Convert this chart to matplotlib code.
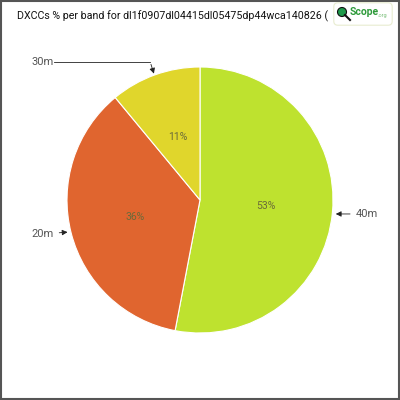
import matplotlib.pyplot as plt
from matplotlib.patches import FancyBboxPatch, Rectangle, Circle
from matplotlib.lines import Line2D

# data
bands = ["40m", "20m", "30m"]
shares = [53, 36, 11]
colors = ["#bee22f", "#e0652f", "#e0d62c"]
title = "DXCCs % per band for dl1f0907dl04415dl05475dp44wca140826 ("

font = ["Roboto", "DejaVu Sans"]

fig = plt.figure(figsize=(4, 4), dpi=100)
fig.patch.set_facecolor("white")

# outer frame
fig.add_artist(Rectangle((0.002, 0.002), 0.996, 0.996, transform=fig.transFigure,
                         fill=False, edgecolor="#555555", linewidth=1.5))

ax = fig.add_axes([67 / 400, 67 / 400, 266 / 400, 266 / 400])
wedges, texts, autotexts = ax.pie(
    shares, colors=colors, startangle=90, counterclock=False,
    autopct=lambda p: "%d%%" % round(p), pctdistance=0.5, radius=1,
    wedgeprops=dict(edgecolor="white", linewidth=0.8),
    textprops=dict(fontsize=7.5, color="#6a6a3a", family=font))
ax.set_xlim(-1, 1)
ax.set_ylim(-1, 1)
ax.set_aspect("equal")
ax.axis("off")

lab = dict(fontsize=8, color="#555555", va="center", family=font)
arr = dict(arrowstyle="-|>", color="#222222", lw=0.6, mutation_scale=8)

ax.annotate(bands[0], xy=(1.0, -0.105), xytext=(1.17, -0.105), ha="left",
            arrowprops=arr, annotation_clip=False, **lab)
ax.annotate(bands[1], xy=(-0.975, -0.24), xytext=(-1.1, -0.256), ha="right",
            arrowprops=arr, annotation_clip=False, **lab)
ax.plot([-1.1, -0.375], [1.04, 1.04], color="#222222", lw=0.6, clip_on=False)
ax.text(-1.1, 1.04, bands[2], ha="right", **lab)
ax.annotate("", xy=(-0.34, 0.93), xytext=(-0.375, 1.04),
            arrowprops=arr, annotation_clip=False)

fig.text(17 / 400, 1 - 16 / 400, title, fontsize=7.7, va="center", ha="left",
         family=font, color="#111111")

# logo box
fig.add_artist(FancyBboxPatch((335 / 400, 1 - 24 / 400), 56 / 400, 20 / 400,
                              boxstyle="round,pad=0.003,rounding_size=0.01",
                              transform=fig.transFigure, facecolor="white",
                              edgecolor="#e8ecd0", linewidth=0.8, zorder=5))
fig.add_artist(Circle((342 / 400, 1 - 12 / 400), 4.5 / 400, transform=fig.transFigure,
                      facecolor="#1e9a4a", edgecolor="#111111", linewidth=0.8, zorder=6))
fig.add_artist(Line2D([345 / 400, 350 / 400], [1 - 15 / 400, 1 - 20 / 400],
                      transform=fig.transFigure, color="#111111", lw=1.5, zorder=6))
fig.text(350 / 400, 1 - 12 / 400, "Scope", fontsize=7.5, color="#2e9a3a",
         fontweight="bold", ha="left", va="center", zorder=6, family=font)
fig.text(378 / 400, 1 - 15 / 400, ".org", fontsize=4, color="#7cc07c",
         ha="left", va="center", zorder=6, family=font)

fig.savefig("out.png", dpi=100, facecolor="white")
